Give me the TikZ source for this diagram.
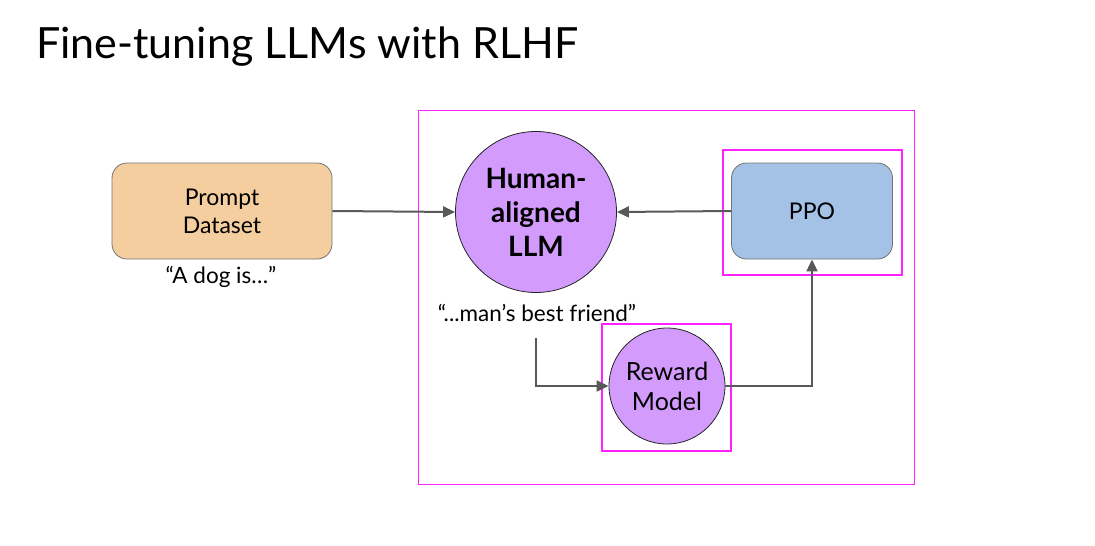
\documentclass[tikz,border=0pt]{standalone}
\usepackage{fontspec}
\setmainfont{Lato}
\usetikzlibrary{arrows.meta,positioning}
\definecolor{peach}{HTML}{F4CE9F}
\definecolor{lilac}{HTML}{D29BFC}
\definecolor{skyb}{HTML}{A4C2E5}
\definecolor{arr}{HTML}{595959}
\definecolor{mag}{HTML}{FF22FF}
\tikzset{
  rbox/.style={draw=black!55, line width=0.8pt, rounded corners=15pt, inner sep=0pt, align=center, font=\fontsize{23}{28}\selectfont},
  circ/.style={circle, draw=black!85, line width=0.8pt, fill=lilac, inner sep=0pt, align=center},
  conn/.style={draw=arr, line width=2pt, -{Triangle[length=12pt,width=11pt]}},
  frame/.style={draw=mag, line width=1pt},
  frame2/.style={draw=mag, line width=2pt},
  lbl/.style={inner sep=0pt, font=\fontsize{22.5}{26}\selectfont}
}
\begin{document}
\begin{tikzpicture}[x=1pt,y=-1pt]
\useasboundingbox (0,0) rectangle (1095,546);
\node[anchor=base west, inner sep=0pt, font=\fontsize{43}{50}\selectfont] (title) at (36,58) {Fine-tuning LLMs with RLHF};
% frames
\draw[frame] (418,110) rectangle (914,484);
\draw[frame2] (723,150) rectangle (902,275);
\draw[frame2] (602,324) rectangle (731,451);
% nodes
\node[rbox, fill=peach, minimum width=220pt, minimum height=96pt] (prompt) at (222,211) {Prompt\\Dataset};
\node[lbl] (dog) at (221,277) {“A dog is…”};
\node[circ, minimum size=161pt, font=\bfseries\fontsize{28}{34}\selectfont] (llm) at (536,212) {Human-\\aligned\\LLM};
\node[rbox, fill=skyb, minimum width=161pt, minimum height=96pt, font=\fontsize{23}{28}\selectfont] (ppo) at (812,211) {PPO};
\node[lbl] (friend) at (537,313) {“...man’s best friend”};
\node[circ, minimum size=116pt, font=\fontsize{25}{30}\selectfont] (rm) at (667,386) {Reward\\Model};
\coordinate (start) at (536,338);
\coordinate (corner1) at (536,386);
\coordinate (corner2) at (812,386);
% connectors
\draw[conn] (prompt.east) -- (llm.west);
\draw[conn] (ppo.west) -- (llm.east);
\draw[conn] (start) -- (corner1) -- (rm.west);
\draw[conn] (rm.east) -- (corner2) -- (ppo.south);
\end{tikzpicture}
\end{document}
